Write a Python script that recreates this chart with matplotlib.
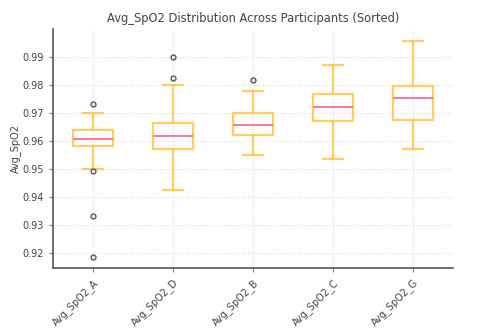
import matplotlib
matplotlib.use("Agg")
import matplotlib.pyplot as plt

# Participants, in sorted order of median
labels = ["Avg_SpO2_A", "Avg_SpO2_D", "Avg_SpO2_B", "Avg_SpO2_C", "Avg_SpO2_G"]
whislo = [0.9500, 0.9425, 0.9550, 0.9537, 0.9571]
q1 = [0.9582, 0.9570, 0.9621, 0.9672, 0.9675]
med = [0.9608, 0.9618, 0.9658, 0.9723, 0.9753]
q3 = [0.9639, 0.9665, 0.9699, 0.9768, 0.9796]
whishi = [0.9700, 0.9800, 0.9779, 0.9870, 0.9958]
fliers = [
    [0.9731, 0.9493, 0.9330, 0.9187],
    [0.9900, 0.9824],
    [0.9818],
    [],
    [],
]

stats = [
    dict(label=l, whislo=a, q1=b, med=c, q3=d, whishi=e, fliers=f)
    for l, a, b, c, d, e, f in zip(labels, whislo, q1, med, q3, whishi, fliers)
]

text_c = "#444444"
box_c = "#FFC845"

fig = plt.figure(figsize=(4.89, 3.32), dpi=100)
ax = fig.add_axes([0.1084, 0.1928, 0.8180, 0.7199])

ax.bxp(
    stats,
    widths=0.5,
    boxprops=dict(color=box_c, linewidth=1.6, alpha=0.85),
    whiskerprops=dict(color=box_c, linewidth=1.6, alpha=0.85),
    capprops=dict(color=box_c, linewidth=1.6, alpha=0.85),
    medianprops=dict(color="#F4708A", linewidth=1.3),
    flierprops=dict(marker="o", markersize=3.5, markerfacecolor="none",
                    markeredgecolor="#555555", markeredgewidth=1.0),
)

ax.set_xlim(0.5, 5.5)
ax.set_ylim(0.9146, 1.0)
ax.set_yticks([0.92, 0.93, 0.94, 0.95, 0.96, 0.97, 0.98, 0.99])
ax.set_xticklabels(labels, rotation=45, ha="right", rotation_mode="anchor")

ax.grid(True, linestyle=":", color="#dcdcdc", linewidth=0.8)
ax.set_axisbelow(True)

for s in ("top", "right"):
    ax.spines[s].set_visible(False)
for s in ("left", "bottom"):
    ax.spines[s].set_color("#555555")
    ax.spines[s].set_linewidth(1.2)

ax.tick_params(axis="both", labelsize=7, colors=text_c, length=3, color="#888888")
ax.set_title("Avg_SpO2 Distribution Across Participants (Sorted)", fontsize=8.3,
             color=text_c, pad=5)
ax.set_ylabel("Avg_SpO2", fontsize=7, color=text_c, labelpad=1)

fig.savefig("out.png", dpi=100)
